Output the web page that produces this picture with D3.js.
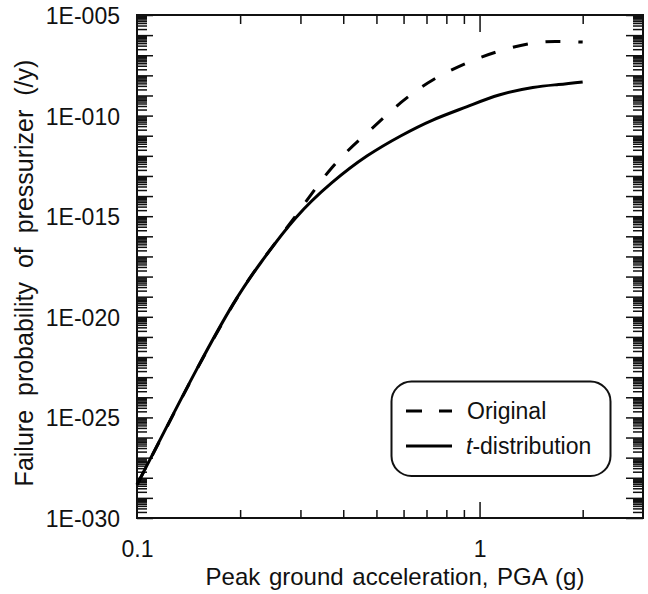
<!DOCTYPE html>
<html>
<head>
<meta charset="utf-8">
<script src="https://cdn.jsdelivr.net/npm/d3@7"></script>
<style>
  body { margin: 0; background: #fff; }
  svg text { font-family: "Liberation Sans", Arial, sans-serif; fill: #111; }
</style>
</head>
<body>
<svg id="svg" width="648" height="594"></svg>
<script>
// data
var pga = [0.1, 0.12, 0.15, 0.19, 0.23, 0.29, 0.37, 0.47, 0.59, 0.73, 0.92, 1.14, 1.43, 1.7, 2.0];
var original = [4.5e-29, 1.8e-26, 2.7e-23, 3.6e-20, 5.2e-18, 1.0e-15, 2.5e-13, 1.4e-11, 4.5e-10, 5.9e-9, 4.2e-8, 1.6e-7, 4.0e-7, 4.8e-7, 4.5e-7];
var tdist = [4.5e-29, 1.9e-26, 2.8e-23, 3.8e-20, 5.0e-18, 7.9e-16, 4.5e-14, 1.0e-12, 1.0e-11, 6.0e-11, 2.8e-10, 1.05e-9, 2.5e-9, 3.5e-9, 4.7e-9];
var seriesNames = ["Original", "t-distribution"];
var yLabelTicks = [1e-5, 1e-10, 1e-15, 1e-20, 1e-25, 1e-30];
var xLabelTicks = [0.1, 1];

var svg = d3.select("#svg");
var pLeft = 137, pRight = 643, pTop = 15, pBottom = 518;

var x = d3.scaleLog().domain([0.1, 3]).range([pLeft, pRight]);
var y = d3.scaleLog().domain([1e-30, 1e-5]).range([pBottom, pTop]);

// tick values
var decades = d3.range(-30, -4).map(function(e){ return Math.pow(10, e); });
var yMinor = [];
d3.range(-30, -5).forEach(function(e){
  for (var m = 2; m <= 9; m++) yMinor.push(m * Math.pow(10, e));
});
var xMinor = [0.2, 0.3, 0.4, 0.5, 0.6, 0.7, 0.8, 0.9, 2];

function styleAxis(g){
  g.select(".domain").remove();
  g.selectAll("line").attr("stroke", "#111").attr("stroke-width", 1.5);
}

// y ticks, left and right, pointing in
svg.append("g").attr("transform", "translate(" + pLeft + ",0)")
.call(d3.axisLeft(y).tickValues(decades).tickSize(-16).tickFormat(""))
.call(styleAxis);
svg.append("g").attr("transform", "translate(" + pLeft + ",0)")
.call(d3.axisLeft(y).tickValues(yMinor).tickSize(-10).tickFormat(""))
.call(styleAxis);
svg.append("g").attr("transform", "translate(" + pRight + ",0)")
.call(d3.axisRight(y).tickValues(decades).tickSize(-17).tickFormat(""))
.call(styleAxis);
svg.append("g").attr("transform", "translate(" + pRight + ",0)")
.call(d3.axisRight(y).tickValues(yMinor).tickSize(-10).tickFormat(""))
.call(styleAxis);

// x ticks, bottom and top
svg.append("g").attr("transform", "translate(0," + pBottom + ")")
.call(d3.axisBottom(x).tickValues([1]).tickSize(-16).tickFormat(""))
.call(styleAxis);
svg.append("g").attr("transform", "translate(0," + pBottom + ")")
.call(d3.axisBottom(x).tickValues(xMinor).tickSize(-8).tickFormat(""))
.call(styleAxis);
svg.append("g").attr("transform", "translate(0," + pTop + ")")
.call(d3.axisTop(x).tickValues([1]).tickSize(-17).tickFormat(""))
.call(styleAxis);
svg.append("g").attr("transform", "translate(0," + pTop + ")")
.call(d3.axisTop(x).tickValues(xMinor).tickSize(-9).tickFormat(""))
.call(styleAxis);

// tick labels
var yLab = svg.append("g").attr("transform", "translate(" + pLeft + ",0)")
.call(d3.axisLeft(y).tickValues(yLabelTicks).tickSize(0).tickPadding(17)
  .tickFormat(function(d){ var e = Math.round(-Math.log10(d)); return "1E-" + d3.format("03d")(e); }));
yLab.select(".domain").remove();
yLab.selectAll("text").style("font-size", "23px").attr("dy", "0.37em").attr("fill", "#111");

var xLab = svg.append("g").attr("transform", "translate(0," + pBottom + ")")
.call(d3.axisBottom(x).tickValues(xLabelTicks).tickSize(0).tickPadding(23)
  .tickFormat(function(d){ return d < 1 ? "0.1" : "1"; }));
xLab.select(".domain").remove();
xLab.selectAll("text").style("font-size", "23px").attr("fill", "#111");

// frame
svg.append("rect")
.attr("x", pLeft).attr("y", pTop)
.attr("width", pRight - pLeft).attr("height", pBottom - pTop)
.attr("fill", "none").attr("stroke", "#111").attr("stroke-width", 2);

// curves
var line = d3.line()
.x(function(d){ return x(d[0]); })
.y(function(d){ return y(d[1]); })
.curve(d3.curveNatural);

svg.append("path")
.datum(d3.zip(pga, original))
.attr("d", line)
.attr("fill", "none").attr("stroke", "#000").attr("stroke-width", 3)
.attr("stroke-dasharray", "15,18");

svg.append("path")
.datum(d3.zip(pga, tdist))
.attr("d", line)
.attr("fill", "none").attr("stroke", "#000").attr("stroke-width", 3);

// axis titles
svg.append("text")
.attr("x", 395).attr("y", 585)
.attr("text-anchor", "middle")
.style("font-size", "24px")
.style("word-spacing", "2px")
.text("Peak ground acceleration, PGA (g)");

svg.append("text")
.attr("transform", "translate(33,273) rotate(-90)")
.attr("text-anchor", "middle")
.style("font-size", "25px")
.style("word-spacing", "7px")
.text("Failure probability of pressurizer (/y)");

// legend
var legend = svg.append("g").attr("class", "legend");
legend.append("rect")
.attr("x", 391.5).attr("y", 381.5)
.attr("width", 219).attr("height", 94.5)
.attr("rx", 20).attr("ry", 20)
.attr("fill", "#fff").attr("stroke", "#111").attr("stroke-width", 2);

var rows = [{name: seriesNames[0], dash: "16,17", y: 411}, {name: seriesNames[1], dash: null, y: 446}];
rows.forEach(function(r){
  legend.append("line")
  .attr("x1", 406).attr("x2", 452).attr("y1", r.y).attr("y2", r.y)
  .attr("stroke", "#000").attr("stroke-width", 3)
  .attr("stroke-dasharray", r.dash);
});
legend.append("text")
.attr("x", 467).attr("y", 419)
.style("font-size", "23px")
.text(seriesNames[0]);
var t2 = legend.append("text")
.attr("x", 466).attr("y", 454)
.style("font-size", "23px");
t2.append("tspan").style("font-style", "italic").text("t");
t2.append("tspan").text("-distribution");
</script>
</body>
</html>
